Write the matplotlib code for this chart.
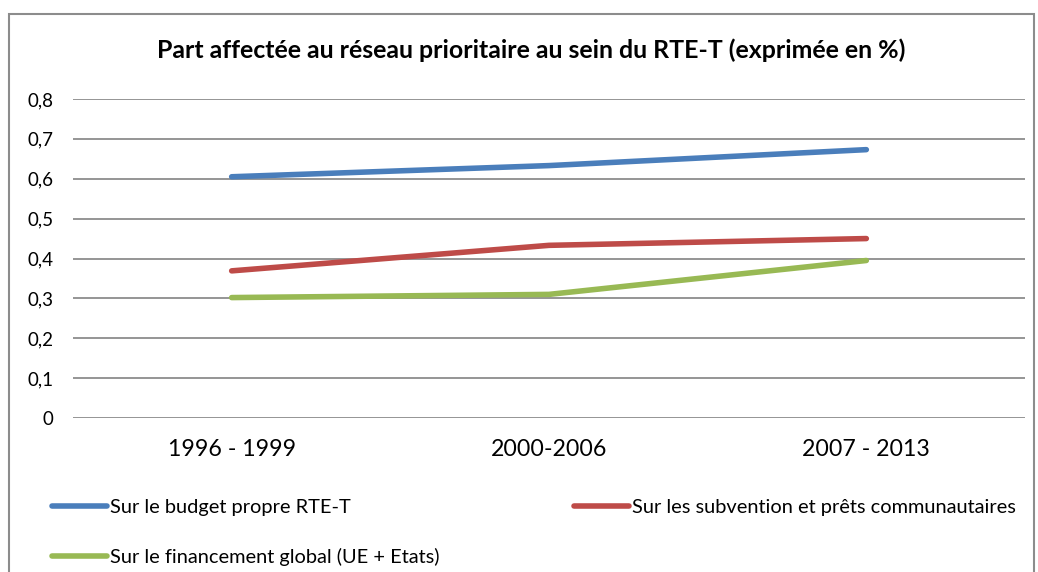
import matplotlib
matplotlib.use("Agg")
import matplotlib.pyplot as plt
from matplotlib.lines import Line2D
from matplotlib.patches import Rectangle

# periodes et parts (en %) affectees au reseau prioritaire
periodes = ["1996 - 1999", "2000-2006", "2007 - 2013"]
budget_propre = [0.605, 0.633, 0.673]
subventions_prets = [0.369, 0.433, 0.450]
financement_global = [0.302, 0.310, 0.395]

noms_series = [
    "Sur le budget propre RTE-T",
    "Sur les subvention et prêts communautaires",
    "Sur le financement global (UE + Etats)",
]
couleurs = ["#4A7EBB", "#BE4B48", "#98B954"]
graduations = [0, 0.1, 0.2, 0.3, 0.4, 0.5, 0.6, 0.7, 0.8]

plt.rcParams["font.family"] = ["Lato", "DejaVu Sans"]

W, H = 1038, 572
fig = plt.figure(figsize=(W / 100, H / 100), dpi=100)
fig.patch.set_facecolor("white")

# cadre gris autour du graphique
fig.patches.append(Rectangle((9 / W, -0.05), (1034 - 9) / W, 1.05 - 14 / H,
                             transform=fig.transFigure, fill=False,
                             edgecolor="#8C8C8C", linewidth=1.5))

ax = fig.add_axes([73 / W, 1 - 418 / H, (1025 - 73) / W, (418 - 99) / H])

x = list(range(len(periodes)))
series = [budget_propre, subventions_prets, financement_global]
for vals, nom, c in zip(series, noms_series, couleurs):
    ax.plot(x, vals, color=c, linewidth=4, solid_capstyle="round",
            solid_joinstyle="round", label=nom, zorder=3)

ax.set_xlim(-0.5, 2.5)
ax.set_ylim(0, 0.8)
ax.set_yticks(graduations)
ax.set_yticklabels([("%g" % v).replace(".", ",") for v in graduations])
ax.set_xticks(x)
ax.set_xticklabels(periodes)
ax.tick_params(axis="y", length=0, pad=14, labelsize=13.5)
ax.tick_params(axis="x", length=0, pad=15, labelsize=16.7)
for s in ax.spines.values():
    s.set_visible(False)
ax.grid(axis="y", color="#8C8C8C", linewidth=1.3)
ax.set_axisbelow(True)

fig.text(531 / W, 1 - 50 / H,
         "Part affectée au réseau prioritaire au sein du RTE-T (exprimée en %)",
         ha="center", va="center", fontsize=17.9, fontweight="bold")

# legende : deux blocs, a gauche et a droite
def poignee(c):
    return Line2D([], [], color=c, linewidth=4, solid_capstyle="round")

leg_opts = dict(frameon=False, fontsize=14.4, handlelength=2.75,
                handletextpad=0.15, labelspacing=1.58, borderpad=0,
                borderaxespad=0, loc="upper left")
fig.legend([poignee(couleurs[0]), poignee(couleurs[2])],
           [noms_series[0], noms_series[2]],
           bbox_to_anchor=(52 / W, 1 - 499 / H), **leg_opts)
fig.legend([poignee(couleurs[1])], [noms_series[1]],
           bbox_to_anchor=(574 / W, 1 - 499 / H), **leg_opts)

fig.savefig("out.png", dpi=100, facecolor="white")
